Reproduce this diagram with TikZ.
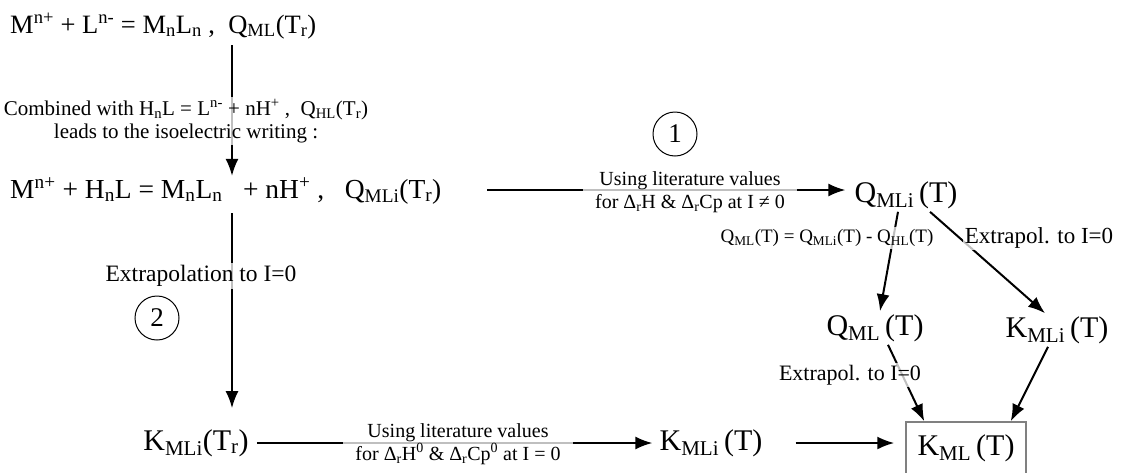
\documentclass[tikz,border=0pt]{standalone}
\usepackage{fontspec}
\setmainfont{Liberation Serif}
\usepackage{tikz}
\usetikzlibrary{arrows.meta,positioning,calc}
\newcommand{\dwn}[1]{\textsubscript{#1}}
\newcommand{\upp}[1]{\textsuperscript{#1}}

\begin{document}
\begin{tikzpicture}[
  x=1pt, y=-1pt,
  big/.style={font=\fontsize{26.5}{30}\selectfont, inner sep=2pt},
  mid/.style={font=\fontsize{30}{34}\selectfont, inner sep=3pt},
  lbl/.style={font=\fontsize{20}{23}\selectfont, align=center, fill=white,
    fill opacity=0.75, text opacity=1, inner xsep=12pt, inner ysep=2pt},
  num/.style={draw, circle, line width=1pt, minimum size=44pt, inner sep=0pt,
    font=\fontsize{27}{29}\selectfont},
  arr/.style={line width=2pt, -{Latex[length=17pt,width=13pt]}},
]
\useasboundingbox (0,0) rectangle (1137,472);
\node[big, anchor=base west] (eqa) at (8,33) {M\upp{n+} + L\upp{n-} = M\dwn{n}L\dwn{n} ,\ \ Q\dwn{ML}(T\dwn{r})};
\node[big, anchor=base west, font=\fontsize{27.5}{30}\selectfont] (eqb) at (8,198) {M\upp{n+} + H\dwn{n}L = M\dwn{n}L\dwn{n} \ \ + nH\upp{+} ,\ \ \ Q\dwn{MLi}(T\dwn{r})};
\node[mid] (qmli) at (906,195) {Q\dwn{MLi}\,(T)};
\node[mid] (qml) at (875,328) {Q\dwn{ML}\,(T)};
\node[mid] (kmlt) at (1057,330) {K\dwn{MLi}\,(T)};
\node[mid, draw=gray, line width=1.5pt, minimum width=120pt, minimum height=52pt] (kml) at (966,448) {K\dwn{ML}\,(T)};
\node[mid] (kmlr) at (196,443) {K\dwn{MLi}(T\dwn{r})};
\node[mid] (kmli) at (711,443) {K\dwn{MLi}\,(T)};
\node[num] (one) at (675,134) {1};
\node[num] (two) at (157,318) {2};

\coordinate (topa) at (232,45);
\coordinate (topb) at (232,213);
\coordinate (lefta) at (487,190);
\draw[arr] (topa) -- (topa |- eqb.north);
\draw[arr, shorten >=18pt] (topb) -- (topb |- kmlr.north);
\draw[arr, shorten >=6pt] (lefta) -- (lefta -| qmli.west);
\draw[arr, shorten <=5pt, shorten >=4pt] (kmlr.east) -- (kmli.west);
\draw[arr, shorten <=30pt, shorten >=11pt] (kmli.east) -- (kmli.east -| kml.west);
\draw[arr] ([xshift=-8pt]qmli.south) -- ([xshift=5pt]qml.north);
\draw[arr] ([xshift=24pt]qmli.south) -- ([xshift=-12pt]kmlt.north);
\draw[arr] ([xshift=13pt]qml.south) -- ([xshift=19pt]kml.north west);
\draw[arr] ([xshift=-9pt]kmlt.south) -- ([xshift=-16pt]kml.north east);

\node[lbl, font=\fontsize{21}{23}\selectfont] at (186,121) {Combined with H\dwn{n}L = L\upp{n-} + nH\upp{+} ,\ \ Q\dwn{HL}(T\dwn{r})\\leads to the isoelectric writing :};
\node[lbl, font=\fontsize{23.5}{25}\selectfont] at (201,276) {Extrapolation to I=0};
\node[lbl] at (690,192) {Using literature values\\for Δ\dwn{r}H \& Δ\dwn{r}Cp at I ≠ 0};
\node[lbl] at (458,444) {Using literature values\\for Δ\dwn{r}H\upp{0} \& Δ\dwn{r}Cp\upp{0} at I = 0};
\node[lbl, inner xsep=2pt, font=\fontsize{19}{22}\selectfont] at (827,238) {Q\dwn{ML}(T) = Q\dwn{MLi}(T) - Q\dwn{HL}(T)};
\node[lbl, inner xsep=2pt, font=\fontsize{23}{25}\selectfont] at (1039,238) {Extrapol. to I=0};
\node[lbl, inner xsep=2pt, font=\fontsize{22}{24}\selectfont] at (850,375) {Extrapol. to I=0};
\end{tikzpicture}
\end{document}
